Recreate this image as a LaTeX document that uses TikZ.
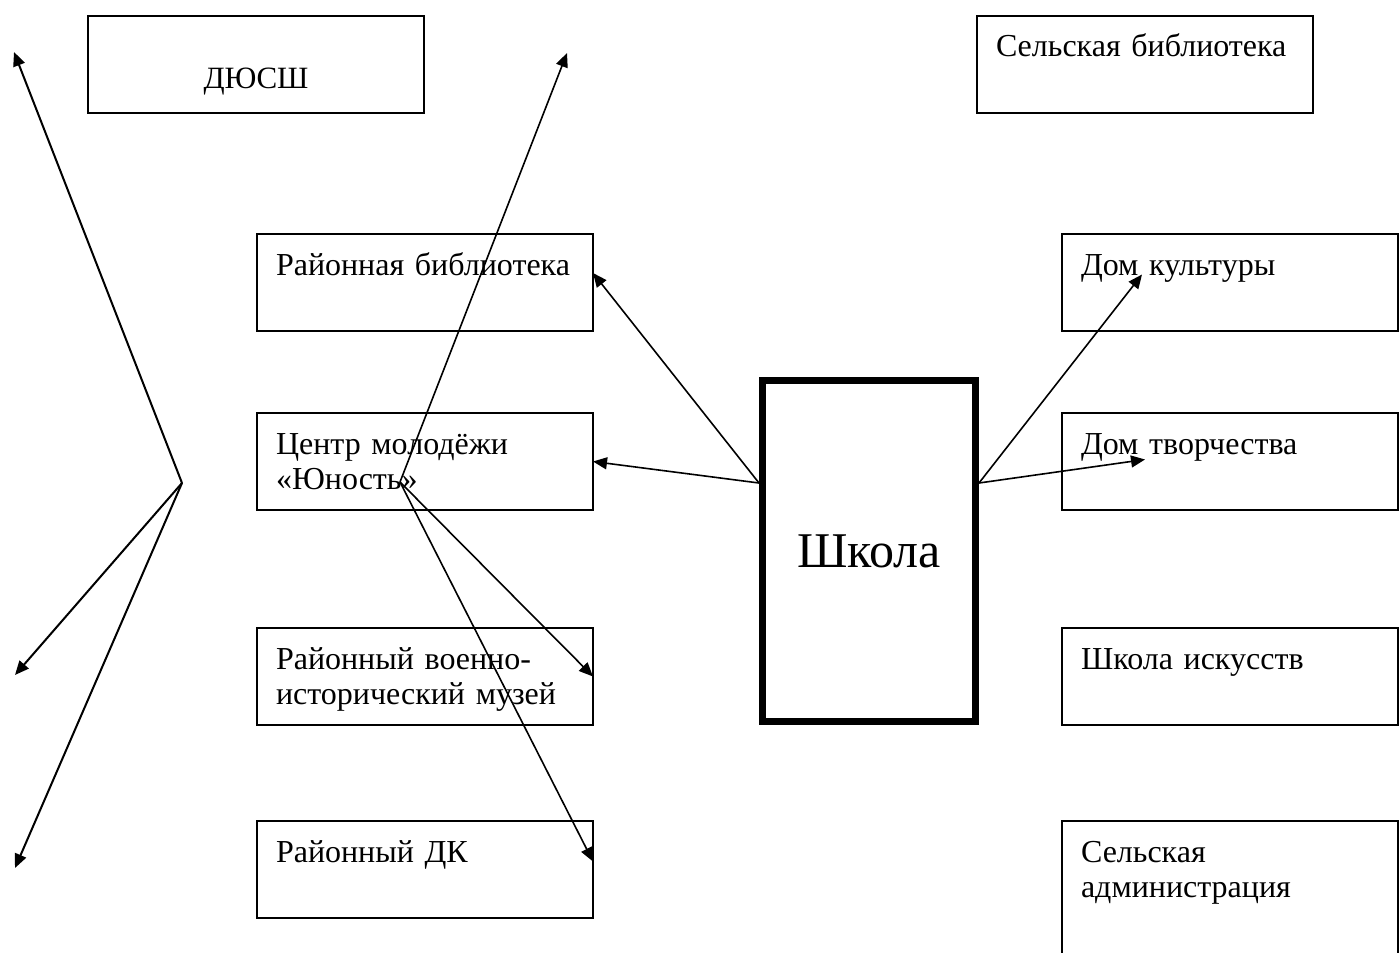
\documentclass[tikz,border=0pt]{standalone}
\usepackage{fontspec}
\setmainfont{Liberation Serif}
\usetikzlibrary{arrows.meta}
\usetikzlibrary{positioning,calc}

\tikzset{
  box/.style={draw, line width=1.1pt, anchor=north west, outer sep=0pt,
    text width=149pt, align=left, inner xsep=9.5pt, inner ysep=8.5pt,
    text height=12pt, text depth=19.5pt,
    font=\fontsize{16}{17.5}\selectfont},
  topbox/.style={box, align=center, text height=28pt, text depth=3.5pt,
    font=\fontsize{15.5}{17}\selectfont},
  school/.style={draw, line width=3.5pt, minimum width=106.5pt,
    minimum height=170.5pt, font=\fontsize{25}{28}\selectfont},
  arr/.style={-{Triangle[length=7pt,width=6pt]}, line width=0.8pt},
  fatarr/.style={arr, line width=1pt}
}

\begin{document}
\begin{tikzpicture}[x=0.5pt,y=-0.5pt]
\useasboundingbox (0,0) rectangle (1400,952);
\clip (0,0) rectangle (1400,952);

% boxes
\node[topbox] (dyussh) at (88,16) {ДЮСШ};
\node[box] (selbib) at (977,16) {Сельская библиотека};
\node[box] (raibib) at (257,234) {Районная библиотека};
\node[box] (centr) at (257,413) {Центр молодёжи\\«Юность»};
\node[box] (muzei) at (257,628) {Районный военно-\\исторический музей};
\node[box] (raidk) at (257,821) {Районный ДК};
\node[box] (domk) at (1062,234) {Дом культуры};
\node[box] (domt) at (1062,413) {Дом творчества};
\node[box] (shki) at (1062,628) {Школа искусств};
\node[box, text depth=62pt] (seladm) at (1062,821) {Сельская\\администрация};
\node[school] (shkola) at (869,551) {Школа};

% free ends
\coordinate (lev) at (0,483);
\coordinate (fan) at (182,483);
\coordinate (fanA) at (14,52);
\coordinate (fanB) at (15,675);
\coordinate (fanC) at (15,868);
\coordinate (junc) at (400,482);
\coordinate (juncA) at (567,53);

% arrows
\draw[arr] (shkola.west |- lev) -- ([yshift=4.75pt]raibib.east);
\draw[arr] (shkola.west |- lev) -- (centr.east);
\draw[arr] (shkola.east |- lev) -- ([xshift=40pt,yshift=4pt]domk.west);
\draw[arr] (shkola.east |- lev) -- ([xshift=41.5pt,yshift=1pt]domt.west);

\draw[fatarr] (fan) -- (fanA);
\draw[fatarr] (fan) -- (fanB);
\draw[fatarr] (fan) -- (fanC);

\draw[arr] (junc) -- (juncA);
\draw[arr] (junc) -- (muzei.east);
\draw[arr] (junc) -- ([yshift=4pt]raidk.east);
\end{tikzpicture}
\end{document}
